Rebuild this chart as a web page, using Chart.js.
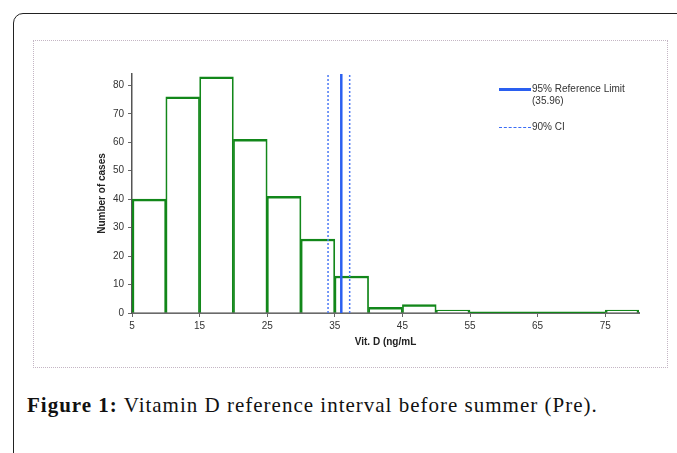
<!DOCTYPE html>
<html>
<head>
<meta charset="utf-8">
<script src="https://cdn.jsdelivr.net/npm/chart.js@4"></script>
<style>
  body { margin: 0; background: #fff; width: 677px; height: 453px; overflow: hidden; position: relative; }
  #frame { position: absolute; left: 13px; top: 13px; width: 700px; height: 500px;
           border: 1.5px solid #222; border-radius: 10px; box-sizing: border-box; }
  #box { position: absolute; left: 33px; top: 40px; width: 635px; height: 328px;
         border: 1px dotted #c4b6c4; box-sizing: border-box; }
  #wrap { position: absolute; left: 33px; top: 40px; width: 635px; height: 328px; }
  .leg { position: absolute; font: 10px "Liberation Sans", Arial, sans-serif; color: #333; line-height: 12px; }
  .swatch { position: absolute; width: 32px; }
  #caption { position: absolute; left: 27px; top: 393px; font: 21px "Liberation Serif", serif;
             letter-spacing: 1px; color: #111; white-space: nowrap; }
</style>
</head>
<body>
<div id="frame"></div>
<div id="box"></div>
<div id="wrap"><canvas id="hist"></canvas></div>

<div class="swatch" style="left:499px; top:88px; border-top:3px solid #2a5ff0;"></div>
<div class="leg" style="left:532px; top:83px;">95% Reference Limit<br>(35.96)</div>
<div class="swatch" style="left:499px; top:127px; border-top:1.5px dashed #3b6df5;"></div>
<div class="leg" style="left:532px; top:121px;">90% CI</div>

<div id="caption"><b>Figure 1:</b> Vitamin D reference interval before summer (Pre).</div>

<script>
// histogram bins, 5 ng/mL wide
const binStarts = [5, 10, 15, 20, 25, 30, 35, 40, 45, 50, 55, 60, 65, 70, 75];
const binWidth = 5;
const counts = [40, 76, 83, 61, 41, 26, 13, 2, 3, 1, 0, 0, 0, 0, 1];

const refLimit = 35.96;
const ciLow = 34.0;
const ciHigh = 37.2;

const xTickValues = [5, 15, 25, 35, 45, 55, 65, 75];
const yTickValues = [0, 10, 20, 30, 40, 50, 60, 70, 80];
const xMin = 5, xMax = 80, yMax = 84;

const green = '#12871a';

const barData = binStarts.map((s, i) => ({ x: s + binWidth / 2, y: counts[i] }));

// empty bins still show a green line along the baseline
const zeroRun = [];
binStarts.forEach((s, i) => {
    if (counts[i] === 0) {
        zeroRun.push({ x: s, y: 0 }, { x: s + binWidth, y: 0 });
    }
});

const vline = (x) => [{ x: x, y: 0 }, { x: x, y: yMax }];

// shared edges between neighbouring bars get part of the border from each side
const edgeWidth = (c) => {
    const i = c.dataIndex;
    const prev = i > 0 && counts[i - 1] > 0;
    const next = i < counts.length - 1 && counts[i + 1] > 0;
    return { top: 2.5, left: prev ? 1.75 : 2.5, right: next ? 1.75 : 2.5, bottom: 0 };
};

const ctx = document.getElementById('hist').getContext('2d');
new Chart(ctx, {
    type: 'bar',
    data: {
        datasets: [
            {
                type: 'line',
                data: vline(ciLow),
                borderColor: '#4a78f5',
                borderWidth: 1.5,
                borderDash: [2, 2],
                pointRadius: 0,
                order: 0
            },
            {
                type: 'line',
                data: vline(ciHigh),
                borderColor: '#4a78f5',
                borderWidth: 1.5,
                borderDash: [2, 2],
                pointRadius: 0,
                order: 0
            },
            {
                type: 'line',
                data: vline(refLimit),
                borderColor: '#2a5ff0',
                borderWidth: 2.5,
                pointRadius: 0,
                order: 0
            },
            {
                type: 'line',
                data: zeroRun,
                borderColor: green,
                borderWidth: 2.5,
                pointRadius: 0,
                order: 1
            },
            {
                data: barData,
                backgroundColor: '#ffffff',
                borderColor: green,
                borderWidth: edgeWidth,
                borderSkipped: false,
                barPercentage: 1,
                categoryPercentage: 1,
                order: 2
            }
        ]
    },
    options: {
        responsive: true,
        maintainAspectRatio: false,
        animation: false,
        layout: { padding: { left: 0, top: 34, right: 29, bottom: 0 } },
        plugins: {
            legend: { display: false },
            tooltip: { enabled: false }
        },
        scales: {
            x: {
                type: 'linear',
                min: xMin,
                max: xMax,
                offset: false,
                grid: { offset: false, drawOnChartArea: false, tickLength: 4, color: '#666', tickWidth: 1 },
                border: { color: '#6a6a6a', width: 2 },
                afterBuildTicks: (scale) => { scale.ticks = xTickValues.map(v => ({ value: v })); },
                afterFit: (scale) => { scale.height = 55; },
                ticks: {
                    autoSkip: false,
                    maxRotation: 0,
                    padding: 3,
                    color: '#333',
                    font: { family: 'Liberation Sans', size: 10 }
                },
                title: {
                    display: true,
                    text: 'Vit. D (ng/mL',
                    color: '#222',
                    padding: { top: 0, bottom: 20 },
                    font: { family: 'Liberation Sans', size: 10, weight: 'bold' }
                }
            },
            y: {
                min: 0,
                max: yMax,
                grid: { drawOnChartArea: false, tickLength: 4, color: '#666', tickWidth: 1 },
                border: { color: '#555', width: 1.5 },
                afterBuildTicks: (scale) => { scale.ticks = yTickValues.map(v => ({ value: v })); },
                afterFit: (scale) => { scale.width = 99; },
                ticks: {
                    padding: 4,
                    color: '#333',
                    font: { family: 'Liberation Sans', size: 10 }
                },
                title: {
                    display: true,
                    text: 'Number of cases',
                    color: '#222',
                    padding: { top: 63, bottom: 0 },
                    font: { family: 'Liberation Sans', size: 10, weight: 'bold' }
                }
            }
        }
    }
});
</script>
</body>
</html>
